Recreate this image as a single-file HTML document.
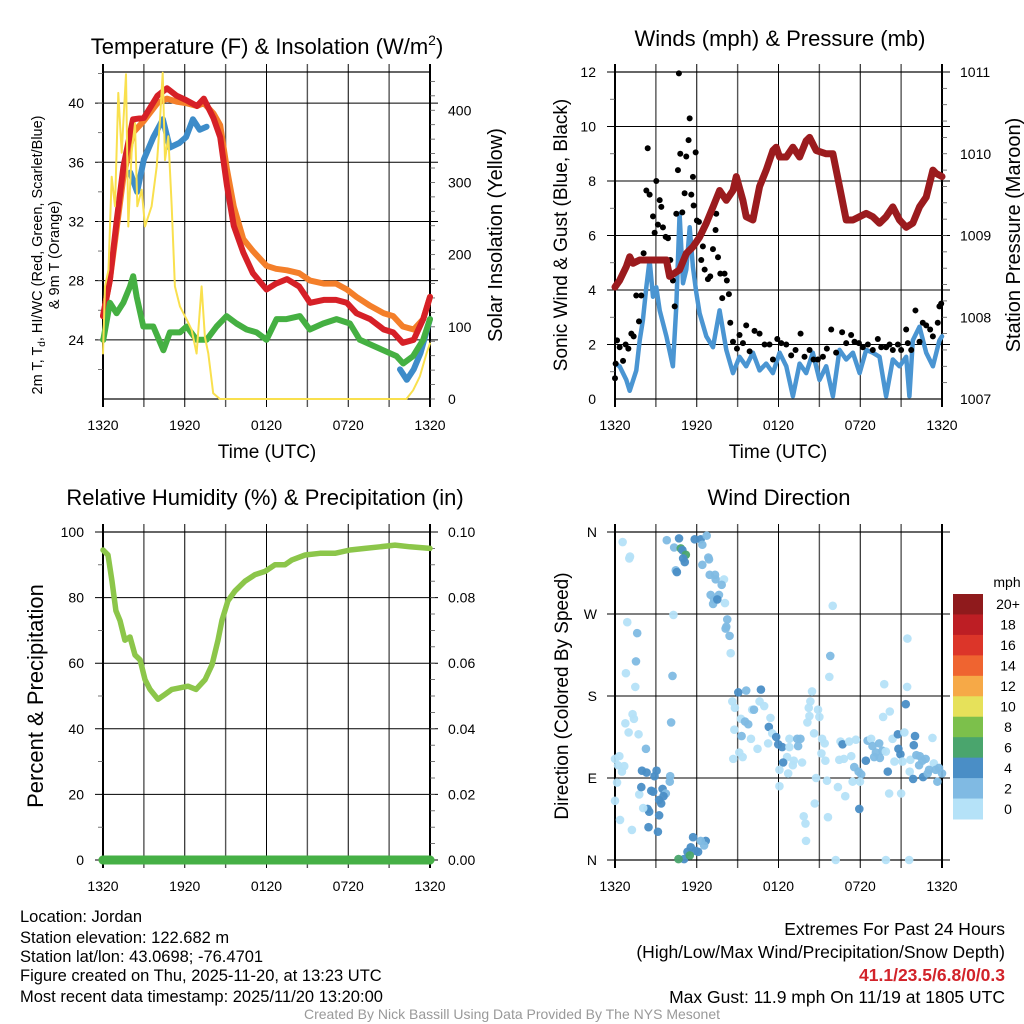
<!DOCTYPE html>
<html><head><meta charset="utf-8">
<style>
html,body{margin:0;padding:0;background:#fff;}
svg{display:block;font-family:"Liberation Sans",Arial,sans-serif;}
</style></head>
<body>
<svg id="chart" width="1024" height="1024" viewBox="0 0 1024 1024" xmlns="http://www.w3.org/2000/svg">
<rect x="0" y="0" width="1024" height="1024" fill="#fff"/>
<g id="layer"></g>
<g font-size="16.5" fill="#000">
<text x="20" y="922">Location: Jordan</text>
<text x="20" y="943">Station elevation: 122.682 m</text>
<text x="20" y="962">Station lat/lon: 43.0698; -76.4701</text>
<text x="20" y="981">Figure created on Thu, 2025-11-20, at 13:23 UTC</text>
<text x="20" y="1002">Most recent data timestamp: 2025/11/20 13:20:00</text>
</g>
<g font-size="17.5" fill="#000" text-anchor="end">
<text x="1005" y="935">Extremes For Past 24 Hours</text>
<text x="1005" y="958">(High/Low/Max Wind/Precipitation/Snow Depth)</text>
<text x="1005" y="981" fill="#d2232a" font-weight="bold">41.1/23.5/6.8/0/0.3</text>
<text x="1005" y="1003">Max Gust: 11.9 mph On 11/19 at 1805 UTC</text>
</g>
<text x="512" y="1019" font-size="14" fill="#999" text-anchor="middle">Created By Nick Bassill Using Data Provided By The NYS Mesonet</text>
</svg>
<script>
// ---------- DATA ----------
const timeTickLabels = ["1320","1920","0120","0720","1320"];
// Temperature panel
const redHours = [0,0.5,1,1.5,2.2,3,4,4.7,5.4,6.1,6.9,7.4,8.1,8.6,9.1,9.6,10.3,11,12,12.7,13.5,14.4,15.2,16.2,17.1,17.9,18.6,19.6,20.6,21.3,22,22.8,23.5,24];
const redTemp = [25.6,28,32,35.7,38.9,39,40.5,41,40.5,40.2,39.8,40.3,39,37.7,34.4,31.7,29.9,28.5,27.4,27.8,28.1,27.6,26.5,26.7,26.7,26.5,25.8,25.4,24.7,24.5,23.8,24,25.4,26.9];
const orangeTemp = [25.6,28,31.5,35,38,38.8,40,40.3,40.1,40,39.8,40,39.3,38.5,35.5,33,30.8,30,29,28.8,28.7,28.5,28,27.8,27.8,27.4,26.9,26.3,25.8,25.6,24.9,24.7,25.4,26.9];
const blueHours = [2.0,2.5,3.0,3.7,4.4,4.9,5.6,6.1,6.6,7.1,7.6,null,21.8,22.3,22.8,23.3,24];
const blueTemp = [35.3,34,36.2,37.7,38.9,37,37.3,37.7,38.9,38.2,38.4,null,22,21.3,22,23.1,25.4];
const greenHours = [0,0.02,0.51,1.0,1.49,1.98,2.22,2.47,2.96,3.69,4.43,4.91,5.65,6.14,6.87,7.6,8.34,9.07,9.8,10.54,11.27,12,12.74,13.47,14.45,15.18,16.16,17.14,18.12,18.85,19.83,20.56,21.54,22.03,22.76,23.5,24];
const greenTemp = [24,24,26.5,25.8,26.5,27.6,28.3,26.9,24.9,24.9,23.3,24.5,24.5,24.9,24,24,24.9,25.6,25.1,24.7,24.5,24,25.4,25.4,25.6,24.7,25.1,25.4,25.1,24,23.6,23.3,22.9,22.4,22.9,24,25.4];
const solarHours = [0,0.15,0.4,0.64,0.88,1.12,1.37,1.69,1.86,2.1,2.35,2.52,2.84,3.08,3.57,3.94,4.18,4.38,4.55,4.79,5.04,5.28,5.65,6.14,6.5,6.87,7.24,7.48,7.73,8.09,8.58,22.27,22.76,23.25,23.74,24];
const solarWm2 = [63,156,179,308,267,424,341,450,239,341,382,267,290,239,267,322,387,452,331,364,267,156,128,110,96,63,156,86,63,8,0,0,12,31,63,77];
const tempTicks = [24,28,32,36,40];
const solarTicks = [0,100,200,300,400];
// Wind panel
const windHours = [0,0.34,0.83,1.08,1.56,1.81,2.05,2.3,2.54,2.79,3.03,3.28,3.77,4.25,4.5,4.74,4.99,5.23,5.48,5.72,5.97,6.21,6.7,7.19,7.68,8.17,8.66,9.14,9.63,10.12,10.61,11.1,11.59,12.08,12.57,13.06,13.55,14.03,14.52,15.01,15.5,15.99,16.48,16.97,17.46,17.95,18.44,18.92,19.41,19.9,20.39,20.88,21.37,21.61,21.86,22.35,22.84,23.33,23.81,24];
const windMph = [1.3,1.2,0.7,0.3,1.05,2.15,2.9,4.1,5.1,3.75,4.1,3.25,2.3,1.2,3.4,6.8,4.25,4.75,6.3,4.85,3.9,3.15,2.3,1.9,3.25,1.8,0.95,1.55,1.2,1.7,1.05,1.3,0.95,1.7,1.2,0.1,1.3,0.95,1.7,0.7,1.2,0.1,1.8,1.45,1.7,0.95,1.8,1.7,1.55,0.1,1.45,1.2,1.55,0.1,2.15,2.65,1.7,1.2,2.15,2.3];
const gustHours = [0,0.05,0.15,0.34,0.59,0.78,0.98,1.2,1.37,1.56,1.76,1.93,2.1,2.3,2.4,2.54,2.79,2.91,3.03,3.15,3.28,3.4,3.52,3.72,3.89,4.06,4.25,4.38,4.5,4.62,4.69,4.79,4.94,5.11,5.23,5.4,5.48,5.6,5.72,5.77,5.92,6.01,6.16,6.33,6.45,6.58,6.82,6.99,7.19,7.38,7.43,7.56,7.73,7.87,8.04,8.21,8.36,8.46,8.66,8.95,9.14,9.39,9.63,9.88,10.24,10.61,10.98,11.34,11.59,11.91,12.2,12.57,12.93,13.25,13.62,13.91,14.28,14.57,14.89,15.26,15.55,15.87,16.23,16.67,16.97,17.33,17.58,17.9,18.19,18.56,18.92,19.29,19.54,19.9,20.15,20.39,20.76,21.0,21.37,21.49,21.74,22.05,22.35,22.59,22.84,23.13,23.33,23.69,23.81,23.94];
const gustMph = [0.76,1.3,2.15,1.9,1.4,2.0,1.85,2.4,2.3,3.8,2.85,3.8,5.35,7.65,9.2,7.5,6.7,6.1,8.0,6.4,7.3,7.05,6.3,5.95,5.9,5.1,4.35,3.4,6.8,8.4,11.95,9.0,6.85,7.55,8.9,9.5,10.3,7.5,8.15,7.1,9.05,6.55,6.5,5.1,5.6,4.75,4.4,4.5,5.5,6.2,6.8,5.2,4.6,3.7,4.6,4.35,3.85,2.8,2.1,1.85,2.35,2.05,2.7,1.75,2.5,2.4,2.0,2.0,1.45,2.2,2.05,2.0,1.6,1.8,2.4,1.55,1.8,1.45,1.45,1.55,1.85,2.55,1.7,2.45,2.05,2.35,2.1,2.05,1.9,2.0,1.8,2.2,1.9,1.9,2.0,1.8,2.0,1.8,2.55,2.05,1.8,3.25,2.1,2.8,2.7,2.55,2.3,2.8,3.4,3.5];
const presHours = [0,0.34,0.83,1.08,1.32,1.81,2.79,3.77,4.01,4.74,5.23,5.72,6.21,6.7,7.19,7.68,8.17,8.66,8.9,9.39,9.63,10.12,10.61,11.1,11.59,11.83,12.08,12.57,13.06,13.55,14.03,14.28,14.77,15.5,15.99,16.48,16.97,17.46,17.95,18.44,18.92,19.41,19.9,20.39,20.88,21.37,21.86,22.35,22.84,23.33,23.57,24];
const presMb = [1008.37,1008.45,1008.62,1008.74,1008.66,1008.7,1008.7,1008.7,1008.5,1008.58,1008.78,1008.86,1008.98,1009.15,1009.35,1009.55,1009.43,1009.55,1009.72,1009.43,1009.23,1009.19,1009.6,1009.8,1010.04,1010.08,1009.96,1009.96,1010.08,1009.96,1010.16,1010.2,1010.04,1010.0,1010.0,1009.6,1009.19,1009.19,1009.23,1009.27,1009.23,1009.15,1009.23,1009.35,1009.19,1009.1,1009.15,1009.35,1009.47,1009.8,1009.76,1009.72];
const windTicks = [0,2,4,6,8,10,12];
const presTicks = [1007,1008,1009,1010,1011];
// RH panel
const rhHours = [0,0.37,0.66,0.95,1.25,1.61,1.98,2.35,2.72,3.08,3.45,4.04,4.55,5.06,5.65,6.24,6.83,7.49,8.0,8.44,8.73,9.17,9.69,10.42,11.16,11.89,12.62,13.36,13.87,14.83,15.93,17.03,18.13,19.23,20.33,21.43,22.53,24];
const rhPct = [94.5,93,85,76,73,67,68,62.5,61,55,52,49,50.5,52,52.5,53,52,55,59.5,67,73,79,82,85,87,88,90,90,91.5,93,93.5,93.5,94.5,95,95.5,96,95.5,95];
const precipHours = [0,24];
const precipIn = [0,0];
const rhTicks = [0,20,40,60,80,100];
const precipTicks = ["0.00","0.02","0.04","0.06","0.08","0.10"];
// Wind direction panel
const dirHours = [0.56,1.1,1.05,3.8,4.34,4.7,4.83,4.95,5.2,5.0,5.12,4.46,4.54,5.85,6.29,6.41,6.73,6.85,6.9,6.41,6.95,7.34,7.39,8.0,7.83,7.02,7.27,7.2,7.63,7.51,8.07,8.24,8.17,8.12,8.41,8.49,4.29,0.9,1.63,1.54,0.8,1.49,4.22,4.12,1.29,1.39,0.76,1.0,1.73,2.27,0,0.32,0.68,0.22,0.51,0.15,0,0.37,1.24,1.98,2.32,3.05,2.9,1.78,1.93,2.66,2.8,3.49,3.73,3.24,3.39,3.56,2.39,2.51,2.07,3.24,2.46,3.15,4.05,4.02,5.73,6.66,6.29,6.54,5.56,5.93,6.1,5.32,5.07,4.66,5.49,
8.61,9.05,9.63,10.71,8.8,9.24,9.54,9.78,8.76,9.29,9.98,10.07,10.2,10.61,10.95,11.41,11.29,11.54,11.83,11.98,12.27,11.24,10.46,9.12,9.37,8.68,12.8,13.37,13.61,13.44,12.8,12.63,12.34,13.12,13.05,13.73,12.71,12.07,12.07,14.46,14.34,14.22,14.9,14.27,14.12,15.0,14.61,15.2,15.39,15.15,15.44,14.76,15.56,14.66,13.85,13.98,14.02,15.63,15.98,15.8,15.73,16.36,16.9,16.2,16.55,16.7,17.19,17.68,16.46,16.8,17.34,17.56,17.88,18.07,17.44,17.98,18.41,17.93,18.54,18.8,18.9,19.39,19.63,19.15,19.02,19.44,19.88,19.76,20.17,19.68,20.02,20.12,19.88,20.37,20.51,20.76,20.8,20.95,21.1,21.24,21.34,21.46,21.44,21.0,21.59,22.02,21.93,21.68,21.63,21.88,22.12,22.37,22.56,22.8,22.32,22.61,23.3,23.4,23.05,23.54,23.78,24.0,23.66,22.95];
const dirDeg = [349,333,331,351,343,353,342,340,335,331,327,318,316,352,352,346,356,332,330,324,313,313,308,308,302,291,286,281,291,286,282,264,256,254,246,227,269,261,249,218,205,190,202,151,160,155,150,140,138,122,111,114,103,104,97,85,65,44,33,98,96,98,92,72,80,76,75,78,73,66,62,70,56,53,57,49,36,31,92,86,25,21,21,16,14,10,9,9,1,1,5,
174,184,186,187,167,155,152,149,143,136,133,165,165,174,169,156,146,139,135,127,124,128,122,118,113,111,133,133,133,125,124,113,107,109,104,107,95,99,81,185,174,167,165,158,151,157,139,133,128,117,109,90,87,62,48,40,21,47,279,224,201,80,70,0,130,127,130,132,110,111,114,102,97,94,86,86,109,56,131,133,125,128,120,118,113,112,119,193,163,157,97,73,0,133,108,138,122,116,108,140,171,243,190,73,0,136,126,110,97,89,115,114,109,111,104,91,134,106,99,99,101,95,86,95];
const dirSpeed = [1,1,1,3,3,5,7,5,7,5,5,3,5,5,5,3,3,3,3,3,3,3,3,1,3,3,3,3,3,5,1,3,3,3,3,1,1,1,3,3,1,1,3,3,1,1,1,1,1,3,1,1,1,1,1,1,1,1,1,5,5,5,5,1,5,5,5,5,3,5,5,5,5,5,1,5,5,5,3,3,5,5,3,3,5,5,5,5,5,7,7,
1,5,3,5,1,1,3,3,1,3,1,1,3,1,1,1,5,1,5,5,5,1,1,1,1,1,1,3,3,3,1,1,5,1,1,1,1,1,1,1,1,1,1,1,1,1,1,1,1,1,1,1,1,1,1,1,1,1,1,3,1,1,1,1,1,5,1,1,1,1,1,3,3,3,1,1,5,5,3,1,3,3,3,3,3,3,1,1,1,1,5,1,1,1,1,5,5,5,1,1,5,1,1,1,1,5,5,1,1,5,3,3,3,3,3,5,1,1,3,3,3,3,3,3];
const dirTickLabels = ["N","E","S","W","N"];
const dirTicks = [0,90,180,270,360];
const speedBinLabels = ["0","2","4","6","8","10","12","14","16","18","20+"];
const speedBinColors = ["#b5e2f8","#80bae3","#4a8ec6","#4aa56d","#7cc04b","#e6e15a","#f6a947","#ef6430","#dc3529","#bd1e24","#8f1a1c"];

// ---------- DRAWING ----------
const NS="http://www.w3.org/2000/svg";
const layer=document.getElementById('layer');
function mk(tag,attrs,parent){const e=document.createElementNS(NS,tag);for(const k in attrs)e.setAttribute(k,attrs[k]);(parent||layer).appendChild(e);return e;}
function linScale(d0,d1,r0,r1){return v=>r0+(v-d0)/(d1-d0)*(r1-r0);}

function frame(P,name){
  const g=mk('g',{});
  
  
  for(let h=0;h<=24;h+=3){
    const x=P.x(h);
    const l=mk('line',{x1:x,x2:x,y1:P.y0-8,y2:P.y1+8,stroke:(h%6===0)?'#000':'#555','stroke-width':(h%6===0)?1:1.4},g);
    
    
  }
  for(let i=0;i<timeTickLabels.length;i++){
    const t=mk('text',{x:P.x(i*6),y:P.y1+31,'font-size':14,'text-anchor':'middle'},g);
    t.textContent=timeTickLabels[i];
    
    
  }
  mk('rect',{x:P.x0,y:P.y0,width:P.x1-P.x0,height:P.y1-P.y0,fill:'none',stroke:'#000','stroke-width':1.2},g);
  mk('line',{x1:P.x0,x2:P.x0,y1:P.y0-8,y2:P.y1+8,stroke:'#000','stroke-width':2},g);
  mk('line',{x1:P.x1,x2:P.x1,y1:P.y0-8,y2:P.y1+8,stroke:'#000','stroke-width':2},g);
  return g;
}
function hgrid(P,g,vals,ys){
  vals.forEach(v=>{
    const y=ys(v);
    const l=mk('line',{x1:P.x0-8,x2:P.x1+8,y1:y,y2:y,stroke:'#000','stroke-width':1},g);
    
    
  });
}
function yLabels(g,vals,ys,labels,x,anchor,name){
  vals.forEach((v,i)=>{
    const t=mk('text',{x:x,y:ys(v)+5,'font-size':14,'text-anchor':anchor},g);
    t.textContent=labels[i];
    
    
  });
}
function minorTicks(g,from,to,step,ys,x,dir){
  for(let v=from;v<=to+1e-9;v+=step){
    mk('line',{x1:x,x2:x+dir*5,y1:ys(v),y2:ys(v),stroke:'#555','stroke-width':0.8},g);
  }
}
function title(txt,x,y,size,name,rot){
  const t=mk('text',{x:x,y:y,'font-size':size,'text-anchor':'middle'});
  if(rot)t.setAttribute('transform','rotate(-90 '+x+' '+y+')');
  t.textContent=txt;
  
  
  return t;
}
function pathOf(xs,ys,X,Y){
  let d='',pen=false;
  for(let i=0;i<xs.length;i++){
    if(xs[i]===null||ys[i]===null){pen=false;continue;}
    d+=(pen?'L':'M')+X(xs[i]).toFixed(1)+' '+Y(ys[i]).toFixed(1);pen=true;
  }
  return d;
}
function series(d,color,w,name,parent){
  const p=mk('path',{d:d,fill:'none',stroke:color,'stroke-width':w,'stroke-linejoin':'round','stroke-linecap':'round'},parent);
  
  
  return p;
}

// ---- Panel 1: temperature ----
const P1={x0:103,x1:430,y0:72,y1:399};P1.x=linScale(0,24,P1.x0,P1.x1);
const T1=linScale(20,42.1,P1.y1,P1.y0), S1=linScale(0,453,P1.y1,P1.y0);
const g1=frame(P1,'temperature-panel');
hgrid(P1,g1,tempTicks,T1);
minorTicks(g1,22,42,2,T1,P1.x0,-1);
minorTicks(g1,0,440,20,S1,P1.x1,1);
yLabels(g1,tempTicks,T1,tempTicks.map(String),84,'end','temp-tick-label');
yLabels(g1,solarTicks,S1,solarTicks.map(String),448,'start','solar-tick-label');
const s1=mk('g',{});


series(pathOf(redHours,orangeTemp,P1.x,T1),'#f47f2a',6,'temp-9m-line',s1);
series(pathOf(redHours,redTemp,P1.x,T1),'#d62027',6,'temp-2m-line',s1);
series(pathOf(blueHours,blueTemp,P1.x,T1),'#3d8cc9',6,'heat-index-windchill-line',s1);
series(pathOf(greenHours,greenTemp,P1.x,T1),'#45b042',6,'dewpoint-line',s1);
series(pathOf(solarHours,solarWm2,P1.x,S1),'#f9e04e',2,'solar-insolation-line',s1);
const tt=title('',267,54,22,'temperature-panel-title');
tt.innerHTML='Temperature (F) &amp; Insolation (W/m<tspan font-size="14" dy="-9">2</tspan><tspan dy="9">)</tspan>';
title('Time (UTC)',267,458,19,'temperature-x-axis-title');
title('Solar Insolation (Yellow)',502,235,20,'solar-y-axis-title',true);
const yt=title('',42,255,14.5,'temperature-y-axis-title',true);
yt.innerHTML='2m T, T<tspan font-size="10" dy="3">d</tspan><tspan dy="-3">, HI/WC (Red, Green, Scarlet/Blue)</tspan>';
title('& 9m T (Orange)',59,255,14.5,'temperature-y-axis-title-2',true);

// ---- Panel 2: winds ----
const P2={x0:615,x1:942,y0:72,y1:399};P2.x=linScale(0,24,P2.x0,P2.x1);
const W2=linScale(0,12,P2.y1,P2.y0), Pr2=linScale(1007,1011,P2.y1,P2.y0);
const g2=frame(P2,'wind-panel');
hgrid(P2,g2,windTicks.slice(1),W2);
minorTicks(g2,1,11,2,W2,P2.x0,-1);
minorTicks(g2,1007.2,1010.8,0.2,Pr2,P2.x1,1);
yLabels(g2,windTicks,W2,windTicks.map(String),596,'end','wind-tick-label');
yLabels(g2,presTicks,Pr2,presTicks.map(String),960,'start','pressure-tick-label');
const s2=mk('g',{});


series(pathOf(windHours,windMph,P2.x,W2),'#4a95d2',4.5,'sonic-wind-line',s2);
for(let i=0;i<gustHours.length;i++){
  const c=mk('circle',{cx:P2.x(gustHours[i]),cy:W2(gustMph[i]),r:3,fill:'#000'},s2);
  
  
}
series(pathOf(presHours,presMb,P2.x,Pr2),'#9b1b1e',7,'pressure-line',s2);
title('Winds (mph) & Pressure (mb)',780,46,22,'wind-panel-title');
title('Time (UTC)',778,458,19,'wind-x-axis-title');
title('Sonic Wind & Gust (Blue, Black)',567,235,19,'wind-y-axis-title',true);
title('Station Pressure (Maroon)',1020,235,20,'pressure-y-axis-title',true);

// ---- Panel 3: RH ----
const P3={x0:103,x1:430,y0:532,y1:860};P3.x=linScale(0,24,P3.x0,P3.x1);
const R3=linScale(0,100,P3.y1,P3.y0), Pc3=linScale(0,0.1,P3.y1,P3.y0);
const g3=frame(P3,'humidity-panel');
hgrid(P3,g3,rhTicks,R3);
minorTicks(g3,10,90,20,R3,P3.x0,-1);
minorTicks(g3,0.005,0.095,0.005,Pc3,P3.x1,1);
yLabels(g3,rhTicks,R3,rhTicks.map(String),84,'end','rh-tick-label');
yLabels(g3,rhTicks,R3,precipTicks,448,'start','precip-tick-label');
const s3=mk('g',{});


series(pathOf(rhHours,rhPct,P3.x,R3),'#8cc64a',5.5,'relative-humidity-line',s3);
series(pathOf(precipHours,precipIn,P3.x,Pc3),'#46b046',9,'precipitation-line',s3);
for(let h=0;h<=24;h+=0.25){
  mk('circle',{cx:P3.x(h),cy:Pc3(0),r:4.5,fill:'#46b046'},s3);
}
title('Relative Humidity (%) & Precipitation (in)',265,505,22,'humidity-panel-title');
title('Percent & Precipitation',43,696,22,'humidity-y-axis-title',true);

// ---- Panel 4: wind direction ----
const P4={x0:615,x1:942,y0:532,y1:860};P4.x=linScale(0,24,P4.x0,P4.x1);
const D4=linScale(0,360,P4.y1,P4.y0);
const g4=frame(P4,'direction-panel');
hgrid(P4,g4,dirTicks,D4);
yLabels(g4,dirTicks,D4,dirTickLabels,597,'end','direction-tick-label');
const s4=mk('g',{});


for(let i=0;i<dirHours.length;i++){
  const bin=Math.min(10,Math.floor(dirSpeed[i]/2));
  const c=mk('circle',{cx:P4.x(dirHours[i]),cy:D4(dirDeg[i]),r:4.3,fill:speedBinColors[bin],'fill-opacity':0.95},s4);
  
  
}
title('Wind Direction',779,505,22,'direction-panel-title');
title('Direction (Colored By Speed)',568,696,19,'direction-y-axis-title',true);
const cb=mk('g',{});


const cbTop=594,cbBot=819,cbH=(cbBot-cbTop)/speedBinColors.length;
for(let i=0;i<speedBinColors.length;i++){
  const k=speedBinColors.length-1-i;
  const r=mk('rect',{x:953,y:cbTop+i*cbH,width:30,height:cbH+0.5,fill:speedBinColors[k]},cb);
  
  
  const t=mk('text',{x:1008,y:cbTop+i*cbH+cbH/2+5,'font-size':14,'text-anchor':'middle'},cb);
  t.textContent=speedBinLabels[k];
  
  
}
const mph=mk('text',{x:1007,y:587,'font-size':14,'text-anchor':'middle'},cb);
mph.textContent='mph';


</script>
</body></html>
